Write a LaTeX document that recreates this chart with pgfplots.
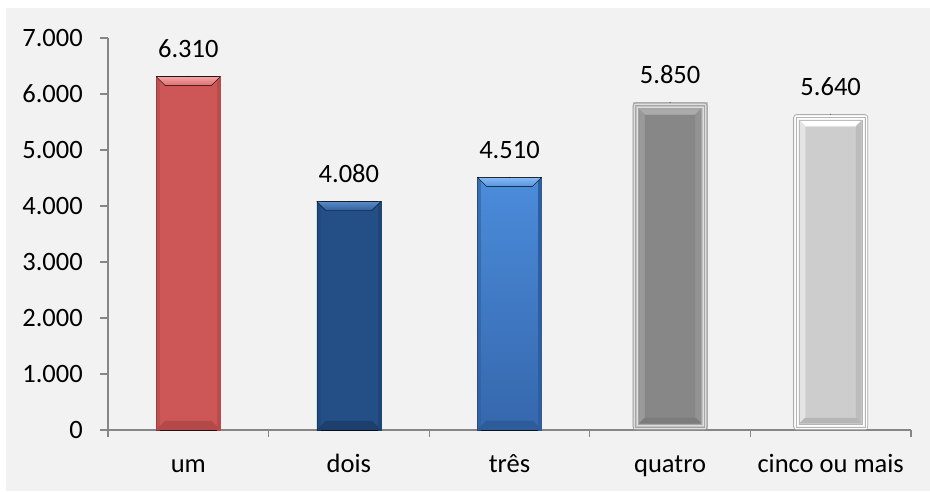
\documentclass[border=0pt]{standalone}
\usepackage{fontspec}
\setmainfont{Carlito}
\usepackage{pgfplots}
\pgfplotsset{compat=1.18}

\definecolor{bg}{HTML}{F2F2F2}
\definecolor{axisgray}{HTML}{868686}
% red bar
\definecolor{rMain}{HTML}{CD5656}
\definecolor{rTop}{HTML}{F4A4A4}
\definecolor{rTopB}{HTML}{DC6C6C}
\definecolor{rBot}{HTML}{B44949}
\definecolor{rSide}{HTML}{B84C4C}
% dark blue bar
\definecolor{dMain}{HTML}{244F86}
\definecolor{dTop}{HTML}{5A8BC8}
\definecolor{dTopB}{HTML}{2F5F9C}
\definecolor{dBot}{HTML}{1C3F6E}
\definecolor{dSide}{HTML}{1F4677}
% light blue bar
\definecolor{bMainT}{HTML}{4B8CDB}
\definecolor{bMainB}{HTML}{3567AC}
\definecolor{bTop}{HTML}{8ABAF0}
\definecolor{bTopB}{HTML}{5294E0}
\definecolor{bBot}{HTML}{2E5C9A}
\definecolor{bSide}{HTML}{2F5E9E}
% framed grey bars
\definecolor{gA}{HTML}{A0A0A0}
\definecolor{gB}{HTML}{C2C2C2}
\definecolor{gC}{HTML}{DEDEDE}
\definecolor{gD}{HTML}{A6A6A6}
\definecolor{gIn}{HTML}{878787}
\definecolor{gT}{HTML}{ABABAB}
\definecolor{gL}{HTML}{9A9A9A}
\definecolor{gR}{HTML}{939393}
\definecolor{gBt}{HTML}{7C7C7C}
\definecolor{lB}{HTML}{F4F4F4}
\definecolor{lA}{HTML}{ABABAB}
\definecolor{lD}{HTML}{B4B4B4}
\definecolor{lIn}{HTML}{CDCDCD}
\definecolor{lL}{HTML}{E4E4E4}
\definecolor{lR}{HTML}{BDBDBD}
\definecolor{lBt}{HTML}{B6B6B6}

% height (canvas) of a bar of value #1, from the axis' own transformation
\makeatletter
\newdimen\bh
\newcommand\barheight[1]{%
  \pgfplotspointaxisxy{0}{#1}\bh=\pgf@y
  \pgfplotspointaxisxy{0}{0}\advance\bh by -\pgf@y\relax}
\makeatother

% bevelled face of a 64pt bar, drawn downwards from its top
\newcommand\bevelbar[6]{%
  \shade[top color=#5, bottom color=#6] (-32pt,-\H) rectangle (32pt,0pt);
  \fill[#4, opacity=0.6] (-32pt,-\H) rectangle (-29pt,0pt);
  \fill[#4] (29pt,-\H) rectangle (32pt,0pt);
  \fill[#3] (-32pt,-\H) -- (32pt,-\H) -- (23pt,{9pt-\H}) -- (-23pt,{9pt-\H}) -- cycle;
  \shade[top color=#1, bottom color=#2] (-32pt,0pt) -- (32pt,0pt) -- (23pt,-9pt) -- (-23pt,-9pt) -- cycle;
}
% framed face of a 75pt bar: embossed frame and bevelled panel
\newcommand\fr[1]{({-37.5pt+#1pt},{#1pt-\H}) rectangle ({37.5pt-#1pt},{-#1pt})}
\newcommand\framebar[9]{%
  \filldraw[fill=#1, draw=#2, line width=0.8pt, rounded corners=3pt] \fr{0.4};
  \draw[#3, line width=0.7pt] \fr{1.8};
  \draw[#4, line width=0.6pt] \fr{3.2};
  \draw[#3, line width=0.7pt] \fr{4.6};
  \draw[#4, line width=0.6pt] \fr{6.2};
  % panel
  \fill[#5] \fr{7};
  \fill[#6] (-30.5pt,-7pt) -- (30.5pt,-7pt) -- (25.5pt,-12pt) -- (-25.5pt,-12pt) -- cycle;
  \fill[#7] (-30.5pt,-7pt) -- (-25.5pt,-12pt) -- (-25.5pt,{12pt-\H}) -- (-30.5pt,{7pt-\H}) -- cycle;
  \fill[#8] (30.5pt,-7pt) -- (25.5pt,-12pt) -- (25.5pt,{12pt-\H}) -- (30.5pt,{7pt-\H}) -- cycle;
  \fill[#9] (-30.5pt,{7pt-\H}) -- (30.5pt,{7pt-\H}) -- (25.5pt,{12pt-\H}) -- (-25.5pt,{12pt-\H}) -- cycle;
}

\newcommand\lbl{\fontsize{26.5}{31}\selectfont}

\pgfplotsset{
  bar/.style={ybar, bar shift=0pt, draw=none, nodes near coords,
    every node near coord/.append style={font=\lbl, text=black, inner sep=0pt, anchor=base, yshift=19pt}},
  face/.style={only marks, scatter, mark=*, mark size=0.1pt,
    mark options={draw=none, fill=none}, point meta=y,
    visualization depends on={rawy \as \ry},
    scatter/@pre marker code/.code={\barheight{\ry}\edef\H{\the\bh}#1},
    scatter/@post marker code/.code={}},
}

\begin{document}
\begin{tikzpicture}[x=1pt,y=1pt]
\fill[white] (0,0) rectangle (930,491);
\fill[bg] (6,0) rectangle (930,483);
\begin{axis}[
  at={(108pt,61pt)}, anchor=south west,
  scale only axis, width=803pt, height=392pt,
  xmin=-0.5, xmax=4.5, ymin=0, ymax=7000,
  axis lines*=left,
  axis line style={draw=axisgray, line width=1.1pt},
  tick align=outside,
  ytick={0,1000,...,7000},
  major tick length=8pt,
  y tick style={draw=axisgray, line width=1.1pt},
  xtick={0,1,2,3,4},
  xticklabels={um,dois,três,quatro,cinco ou mais},
  major x tick style={draw=none},
  minor xtick={-0.5,0.5,1.5,2.5,3.5,4.5},
  minor tick length=7pt,
  minor x tick style={draw=axisgray, line width=1.1pt},
  scaled y ticks=false,
  tick label style={font=\lbl, text=black},
  yticklabel style={anchor=east, inner sep=0pt, xshift=-17pt},
  xticklabel style={anchor=base, inner sep=0pt, yshift=-34pt},
  /pgf/number format/1000 sep={.},
  /pgf/number format/assume math mode=true,
  clip=false,
  axis on top,
]
\addplot[bar, bar width=64pt, fill=rMain] coordinates {(0,6310)};
\addplot[face={\bevelbar{rTop}{rTopB}{rBot}{rSide}{rMain}{rMain}}] coordinates {(0,6310)};
\addplot[bar, bar width=64pt, fill=dMain] coordinates {(1,4080)};
\addplot[face={\bevelbar{dTop}{dTopB}{dBot}{dSide}{dMain}{dMain}}] coordinates {(1,4080)};
\addplot[bar, bar width=64pt, fill=bMainB] coordinates {(2,4510)};
\addplot[face={\bevelbar{bTop}{bTopB}{bBot}{bSide}{bMainT}{bMainB}}] coordinates {(2,4510)};
\addplot[bar, bar width=75pt, fill=gB] coordinates {(3,5850)};
\addplot[face={\framebar{gB}{gA}{gC}{gD}{gIn}{gT}{gL}{gR}{gBt}}] coordinates {(3,5850)};
\addplot[bar, bar width=75pt, fill=lB] coordinates {(4,5640)};
\addplot[face={\framebar{lB}{lA}{white}{lD}{lIn}{white}{lL}{lR}{lBt}}] coordinates {(4,5640)};
\end{axis}
\end{tikzpicture}
\end{document}
